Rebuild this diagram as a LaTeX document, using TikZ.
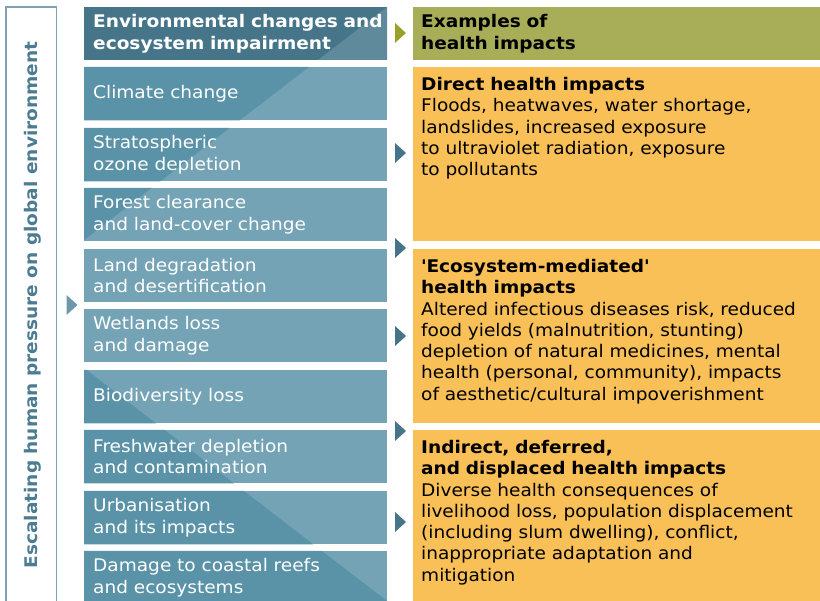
\documentclass[tikz,border=0pt]{standalone}
\usepackage{fontspec}
\setmainfont{DejaVu Sans}[FakeStretch=1.065]
\usetikzlibrary{backgrounds,calc}
\definecolor{hdark}{HTML}{46758A}
\definecolor{hlight}{HTML}{5E8A9C}
\definecolor{bdark}{HTML}{5A93A8}
\definecolor{blight}{HTML}{74A3B6}
\definecolor{olive}{HTML}{A8AD58}
\definecolor{orng}{HTML}{F9C058}
\definecolor{tridark}{HTML}{46758A}
\definecolor{trigreen}{HTML}{98A22A}
\definecolor{trileft}{HTML}{6F97AA}
\definecolor{framec}{HTML}{7FA3B4}
\definecolor{vtext}{HTML}{4C7C91}
\begin{document}
\begin{tikzpicture}[x=1pt,y=-1pt,
  every node/.style={font=\fontsize{17.4}{21.3}\selectfont},
  envbox/.style={anchor=north west, minimum width=303pt, minimum height=53pt,
    text width=285pt, inner xsep=9pt, inner ysep=0pt, align=left, text=white},
  hdrbox/.style={envbox, text width=300pt, font=\fontsize{17.4}{21.3}\selectfont\bfseries},
  impbox/.style={anchor=north west, minimum width=407pt, inner sep=0pt, fill=orng},
  imptext/.style={anchor=north west, inner sep=0pt, text width=399pt, align=left, text=black},
  tri/.pic={\fill (-5.5,-10) -- (5.5,0) -- (-5.5,10) -- cycle;}
]
\useasboundingbox (0,0) rectangle (820,601);
% left frame
\draw[framec, line width=1.5pt] (6,602) -- (6,7) -- (56.5,7) -- (56.5,602);
\node[rotate=90, font=\fontsize{17.4}{21.3}\selectfont\bfseries, text=vtext, inner sep=0pt] (v) at (33,305) {Escalating human pressure on global environment};
\coordinate (la) at (72,305);
\pic[trileft] at (la) {tri};
% environmental boxes
\node[hdrbox] (h) at (84,7) {Environmental changes and\\ecosystem impairment};
\node[envbox] (b1) at (84,67) {Climate change};
\node[envbox] (b2) at (84,128) {Stratospheric\\ozone depletion};
\node[envbox] (b3) at (84,188) {Forest clearance\\and land-cover change};
\node[envbox] (b4) at (84,249) {Land degradation\\and desertification};
\node[envbox] (b5) at (84,309) {Wetlands loss\\and damage};
\node[envbox] (b6) at (84,370) {Biodiversity loss};
\node[envbox] (b7) at (84,430) {Freshwater depletion\\and contamination};
\node[envbox] (b8) at (84,491) {Urbanisation\\and its impacts};
\node[envbox] (b9) at (84,551) {Damage to coastal reefs\\and ecosystems};
\begin{scope}[on background layer]
  \fill[hdark] (h.north west) rectangle ($(h.south west)+(303,0)$);
  \fill[hlight] (387,7) -- (387,60) -- (318.1,60) -- cycle;
  \foreach \b in {b1,b2,b3,b4,b5,b6,b7,b8,b9}
    \fill[blight] (\b.north west) rectangle (\b.south east);
  \clip (0,0) rectangle (820,601);
  \clip (b1.north west) rectangle (b1.south east)
        (b2.north west) rectangle (b2.south east)
        (b3.north west) rectangle (b3.south east)
        (b6.north west) rectangle (b6.south east)
        (b7.north west) rectangle (b7.south east)
        (b8.north west) rectangle (b8.south east)
        (b9.north west) rectangle (b9.south east);
  \fill[bdark] (84,7) -- (387,7) -- (84,240) -- cycle;
  \fill[bdark] (84,368) -- (387,601) -- (84,610) -- cycle;
\end{scope}
% impact boxes
\node[anchor=north west, minimum width=407pt, minimum height=53pt, inner xsep=8pt, inner ysep=0pt,
  text width=391pt, align=left, fill=olive, font=\fontsize{17.4}{21.3}\selectfont\bfseries] (g) at (413,7) {Examples of\\health impacts};
\node[impbox, minimum height=174pt] (o1) at (413,67) {};
\node[impbox, minimum height=174pt] (o2) at (413,249) {};
\node[impbox, minimum height=171pt] (o3) at (413,430) {};
\node[imptext] (t1) at ($(o1.north west)+(8,10)$) {\textbf{Direct health impacts}\\Floods, heatwaves, water shortage,\\landslides, increased exposure\\to ultraviolet radiation, exposure\\to pollutants};
\node[imptext] (t2) at ($(o2.north west)+(8,10)$) {\textbf{\textquotesingle Ecosystem-mediated\textquotesingle}\\\textbf{health impacts}\\Altered infectious diseases risk, reduced\\food yields (malnutrition, stunting)\\depletion of natural medicines, mental\\health (personal, community), impacts\\of aesthetic/cultural impoverishment};
\node[imptext] (t3) at ($(o3.north west)+(8,10)$) {\textbf{Indirect, deferred,}\\\textbf{and displaced health impacts}\\Diverse health consequences of\\livelihood loss, population displacement\\(including slum dwelling), conflict,\\inappropriate adaptation and\\mitigation};
% arrow markers
\coordinate (a0) at (400.5,33);
\coordinate (a1) at (400.5,153);
\coordinate (a2) at (400.5,248);
\coordinate (a3) at (400.5,336);
\coordinate (a4) at (400.5,431);
\coordinate (a5) at (400.5,522);
\pic[trigreen] at (a0) {tri};
\foreach \a in {a1,a2,a3,a4,a5} \pic[tridark] at (\a) {tri};
\end{tikzpicture}
\end{document}
